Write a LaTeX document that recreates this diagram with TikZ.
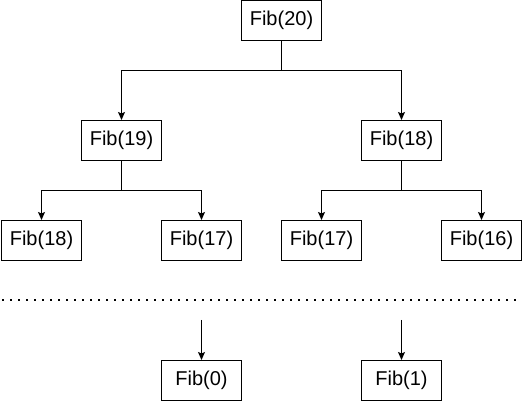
\documentclass[tikz,border=0pt]{standalone}
\usepackage{fontspec}
\setmainfont{Liberation Sans}
\usetikzlibrary{arrows.meta}

\begin{document}
\begin{tikzpicture}[x=1pt,y=-1pt,line width=1pt,
 every node/.style={font=\fontsize{20}{23}\selectfont},
 call/.style={rectangle,draw,minimum width=80pt,minimum height=40pt,inner sep=0pt},
 arr/.style={-{Stealth[length=8pt,width=7pt,inset=1.5pt]}}]
\useasboundingbox (0,0) rectangle (523,401);
\node[call] (f20) at (281.5,20.5) {Fib(20)};
\node[call] (f19) at (121.5,140.5) {Fib(19)};
\node[call] (f18) at (401.5,140.5) {Fib(18)};
\node[call] (f18b) at (41.5,240.5) {Fib(18)};
\node[call] (f17) at (201.5,240.5) {Fib(17)};
\node[call] (f17b) at (321.5,240.5) {Fib(17)};
\node[call] (f16) at (481.5,240.5) {Fib(16)};
\node[call] (f0) at (201.5,380.5) {Fib(0)};
\node[call] (f1) at (401.5,380.5) {Fib(1)};
\coordinate (s0) at (201.5,320);
\coordinate (s1) at (401.5,320);
\coordinate (dl) at (2,300);
\coordinate (dr) at (516,300);
% calls
\draw[arr] (f20.south) -- ++(0,30) -| (f19);
\draw[arr] (f20.south) -- ++(0,30) -| (f18);
\draw[arr] (f19.south) -- ++(0,30) -| (f18b);
\draw[arr] (f19.south) -- ++(0,30) -| (f17);
\draw[arr] (f18.south) -- ++(0,30) -| (f17b);
\draw[arr] (f18.south) -- ++(0,30) -| (f16);
\draw[arr] (s0) -- (f0);
\draw[arr] (s1) -- (f1);
\draw[line width=2pt,dash pattern=on 2pt off 6pt] (dl) -- (dr);
\end{tikzpicture}
\end{document}
